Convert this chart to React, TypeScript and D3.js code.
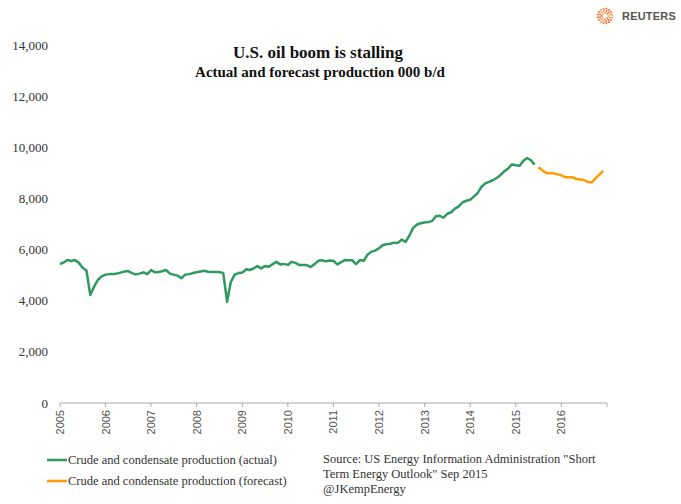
import React from "react";
import * as d3 from "d3";

const W = 681;
const H = 504;

const actualStart = "2005-01";
const actual: number[] = [
  5435, 5500, 5590, 5550, 5590, 5480, 5290, 5180, 4220, 4550, 4820, 4950,
  5020, 5040, 5040, 5060, 5100, 5140, 5160, 5080, 5030, 5060, 5110, 5040,
  5200, 5110, 5120, 5150, 5200, 5060, 5020, 4980, 4880, 5020, 5040, 5080,
  5110, 5140, 5170, 5130, 5120, 5120, 5120, 5080, 3960, 4740, 5020, 5080,
  5100, 5230, 5200, 5260, 5355, 5265, 5360, 5330, 5430, 5520, 5420, 5440,
  5400, 5520, 5480, 5400, 5395, 5395, 5320, 5420, 5560, 5580, 5540, 5570,
  5560, 5420, 5500, 5590, 5580, 5580, 5430, 5590, 5560, 5800, 5920, 5960,
  6050, 6180, 6210, 6230, 6270, 6260, 6390, 6300, 6550, 6850, 6980, 7030,
  7060, 7075, 7120, 7300, 7320, 7250, 7400, 7460, 7600, 7690, 7850, 7910,
  7950, 8080, 8210, 8450, 8590, 8650, 8710, 8800, 8920, 9060, 9170, 9330,
  9300, 9280, 9460, 9580, 9500, 9320,
];

const forecastStart = "2015-07";
const forecast: number[] = [
  9215, 9100, 8990, 8980, 8980, 8950, 8900, 8830, 8825, 8825, 8760, 8740,
  8720, 8640, 8630, 8780, 8930, 9080,
];

const yTicks = [0, 2000, 4000, 6000, 8000, 10000, 12000, 14000];
const xYears = [2005, 2006, 2007, 2008, 2009, 2010, 2011, 2012, 2013, 2014, 2015, 2016, 2017];

const title = "U.S. oil boom is stalling";
const subtitle = "Actual and forecast production 000 b/d";
const legendLabels = [
  "Crude and condensate production (actual)",
  "Crude and condensate production (forecast)",
];
const sourceLines = [
  'Source: US Energy Information Administration "Short',
  'Term Energy Outlook" Sep 2015',
  "@JKempEnergy",
];

const GREEN = "#2e9a5e";
const ORANGE = "#ff9a00";

function toSeries(start: string, values: number[]) {
  const [y, m] = start.split("-").map(Number);
  return values.map((v, i) => ({ date: new Date(Date.UTC(y, m - 1 + i, 1)), value: v }));
}

function ReutersLogo({ cx, cy }: { cx: number; cy: number }) {
  const dots: { x: number; y: number; r: number; o: number }[] = [];
  const rings = [
    { rad: 3.2, n: 8, r: 0.9 },
    { rad: 5.2, n: 12, r: 1.0 },
    { rad: 7.3, n: 16, r: 1.05 },
  ];
  rings.forEach((ring, ri) => {
    for (let k = 0; k < ring.n; k++) {
      const a = (k / ring.n) * Math.PI * 2 + ri * 0.3;
      dots.push({
        x: cx + Math.cos(a) * ring.rad,
        y: cy + Math.sin(a) * ring.rad,
        r: ring.r,
        o: 0.55 + 0.45 * Math.abs(Math.sin(a * 1.5)),
      });
    }
  });
  return (
    <g>
      {dots.map((d, i) => (
        <circle key={i} cx={d.x} cy={d.y} r={d.r} fill="#f26b21" opacity={d.o} />
      ))}
    </g>
  );
}

export default function App() {
  const x = d3
    .scaleUtc()
    .domain([new Date(Date.UTC(2005, 0, 1)), new Date(Date.UTC(2017, 0, 1))])
    .range([60, 607]);
  const y = d3.scaleLinear().domain([0, 14000]).range([403, 45]);

  const line = d3
    .line<{ date: Date; value: number }>()
    .x((d) => x(d.date))
    .y((d) => y(d.value))
    .curve(d3.curveLinear);

  const act = toSeries(actualStart, actual);
  const fc = toSeries(forecastStart, forecast);
  const fmt = d3.format(",");

  const serif = "'Liberation Serif', 'Times New Roman', serif";
  const sans = "'Liberation Sans', Arial, sans-serif";

  return (
    <svg
      width={W}
      height={H}
      style={{ position: "absolute", left: 0, top: 0, background: "#fff" }}
    >
      <rect width={W} height={H} fill="#fff" />

      {/* Reuters logo */}
      <ReutersLogo cx={605} cy={16} />
      <text
        x={622}
        y={20}
        fontFamily={sans}
        fontSize={11}
        fontWeight={700}
        fill="#555"
        letterSpacing={0.2}
      >
        REUTERS
      </text>

      {/* Titles */}
      <text x={318} y={58} textAnchor="middle" fontFamily={serif} fontWeight={700} fontSize={17} fill="#111">
        {title}
      </text>
      <text x={320} y={77} textAnchor="middle" fontFamily={serif} fontWeight={700} fontSize={15} fill="#111">
        {subtitle}
      </text>

      {/* Y tick labels */}
      {yTicks.map((t) => (
        <text
          key={t}
          x={48}
          y={y(t)}
          dy="0.35em"
          textAnchor="end"
          fontFamily={serif}
          fontSize={13}
          fill="#333"
        >
          {fmt(t)}
        </text>
      ))}

      {/* X axis */}
      <line x1={x.range()[0]} x2={x.range()[1]} y1={403} y2={403} stroke="#aaa" strokeWidth={1} />
      {xYears.map((yr) => {
        const px = x(new Date(Date.UTC(yr, 0, 1)));
        return (
          <g key={yr}>
            <line x1={px} x2={px} y1={403} y2={407} stroke="#aaa" strokeWidth={1} />
            {yr < 2017 && (
              <text
                transform={`translate(${px + 4},${410}) rotate(-90)`}
                textAnchor="end"
                fontFamily={sans}
                fontSize={11}
                fill="#555"
              >
                {yr}
              </text>
            )}
          </g>
        );
      })}

      {/* Lines */}
      <path d={line(act) || ""} fill="none" stroke={GREEN} strokeWidth={2.5} strokeLinejoin="round" />
      <path d={line(fc) || ""} fill="none" stroke={ORANGE} strokeWidth={2.5} strokeLinejoin="round" />

      {/* Legend */}
      {legendLabels.map((lab, i) => {
        const ly = 460 + i * 21;
        return (
          <g key={lab}>
            <line x1={47} x2={67} y1={ly} y2={ly} stroke={i === 0 ? GREEN : ORANGE} strokeWidth={2.5} />
            <text x={68} y={ly} dy="0.35em" fontFamily={serif} fontSize={12.5} fill="#333">
              {lab}
            </text>
          </g>
        );
      })}

      {/* Source */}
      {sourceLines.map((s, i) => (
        <text key={i} x={323} y={459 + i * 15} dy="0.35em" fontFamily={serif} fontSize={12.5} fill="#333">
          {s}
        </text>
      ))}
    </svg>
  );
}
